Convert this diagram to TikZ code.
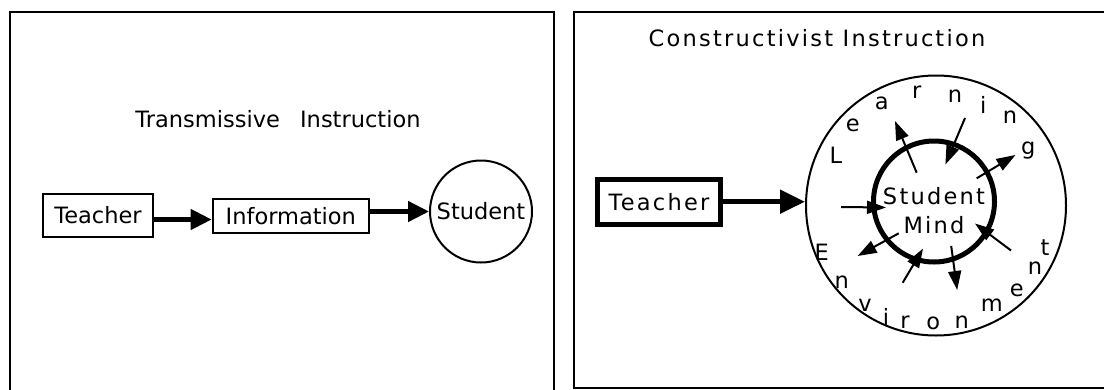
\documentclass[tikz,border=0pt]{standalone}
\usepackage{fontspec}
\setmainfont{DejaVu Sans}
\newfontfamily\plainsp{DejaVu Sans}
\newfontfamily\widesp[LetterSpace=10]{DejaVu Sans}
\usetikzlibrary{arrows.meta,calc}

\begin{document}
\begin{tikzpicture}[x=1pt,y=-1pt,
  panel/.style={line width=2pt},
  ltext/.style={font=\plainsp\fontsize{22.5}{26}\selectfont, inner sep=0pt},
  rtext/.style={font=\widesp\fontsize{22.5}{26}\selectfont, inner sep=0pt},
  lbox/.style={ltext, draw, line width=2pt},
  flowarrow/.style={line width=4.5pt, -{Triangle[length=21pt,width=20pt]}},
  bigarrow/.style={line width=5pt, -{Triangle[length=25pt,width=23pt]}},
  thinarrow/.style={line width=2pt, -{Triangle[length=19pt,width=13pt]}},
  letter/.style={rtext, anchor=center}
]
\useasboundingbox (0,0) rectangle (1104,389);

% ---------- left panel: transmissive instruction ----------
\draw[panel] (9.5,392) -- (9.5,12) -- (554,12) -- (554,392);

\node[ltext, anchor=base] (ltitle) at (278,127) {Transmissive\hspace{13pt} Instruction};

\node[lbox, minimum width=110.6pt, minimum height=43.6pt] (tl) at (98,215.5) {Teacher};
\node[lbox, minimum width=156.3pt, minimum height=33.7pt] (info) at (290.8,216.2) {Information};
\node[ltext, draw, circle, line width=2pt, minimum size=102pt] (st) at (481,211.5) {Student};

\draw[flowarrow] ([yshift=-4pt]tl.east) -- ([yshift=-4pt]tl.east -| info.west);
\draw[flowarrow] (info.east |- st.west) -- (st.west);

% ---------- right panel: constructivist instruction ----------
\draw[panel] (1108,12) -- (574,12) -- (574,387.7) -- (1108,387.7);

\node[rtext, anchor=base] (rtitle) at (817,46.7) {Constructivist Instruc\kern2pt tion};

\node[rtext, draw, line width=5pt, minimum width=123pt, minimum height=45pt] (tr) at (659,201.7) {Teacher};

% learning environment and the student's mind
\node[draw, circle, line width=2pt, minimum size=260pt, inner sep=0pt] (outer) at (936,205.5) {};
\node[draw, circle, line width=5pt, minimum size=121pt, inner sep=0pt] (inner) at (934,201.5) {};
\node[rtext, align=center] (mind) at (934,210.5) {Student\\[2.5pt]Mind};

\draw[bigarrow] (tr.east) -- (tr.east -| outer.west);

% letters of "Learning" and "Environment" set around the ring
\node[letter] (w1) at (836,155.7) {L};
\node[letter] (w2) at (852.7,125) {e};
\node[letter] (w3) at (881.7,103.3) {a};
\node[letter] (w4) at (916.7,92.3) {r};
\node[letter] (w5) at (955,96) {n};
\node[letter] (w6) at (983.3,105) {i};
\node[letter] (w7) at (1010,117.3) {n};
\node[letter] (w8) at (1028.3,150.7) {g};
\node[letter] (v1) at (821.7,252.3) {E};
\node[letter] (v2) at (841.7,281.7) {n};
\node[letter] (v3) at (865,305) {v};
\node[letter] (v4) at (886,317.3) {i};
\node[letter] (v5) at (905,322.3) {r};
\node[letter] (v6) at (933.3,323.3) {o};
\node[letter] (v7) at (961.7,321.7) {n};
\node[letter] (v8) at (991.7,305) {m};
\node[letter] (v9) at (1016.7,290) {e};
\node[letter] (v10) at (1035,268.3) {n};
\node[letter] (v11) at (1045,247.3) {t};

% exchanges between the mind and its surroundings
\coordinate (a1) at (841,207);      \coordinate (b1) at (886,207.5);
\coordinate (a2) at (916.7,172.7);  \coordinate (b2) at (895,121);
\coordinate (a3) at (965,118);      \coordinate (b3) at (945.4,164.5);
\coordinate (a4) at (976.7,178.3);  \coordinate (b4) at (1015.5,155);
\coordinate (a5) at (1011,250.5);   \coordinate (b5) at (975,223.5);
\coordinate (a6) at (951.2,246);    \coordinate (b6) at (957.2,290);
\coordinate (a7) at (902.7,282.7);  \coordinate (b7) at (923,248.6);
\coordinate (a8) at (898.7,233.3);  \coordinate (b8) at (857.6,256);

\foreach \i in {1,...,8} {
  \draw[thinarrow] (a\i) -- (b\i);
}
\end{tikzpicture}
\end{document}
